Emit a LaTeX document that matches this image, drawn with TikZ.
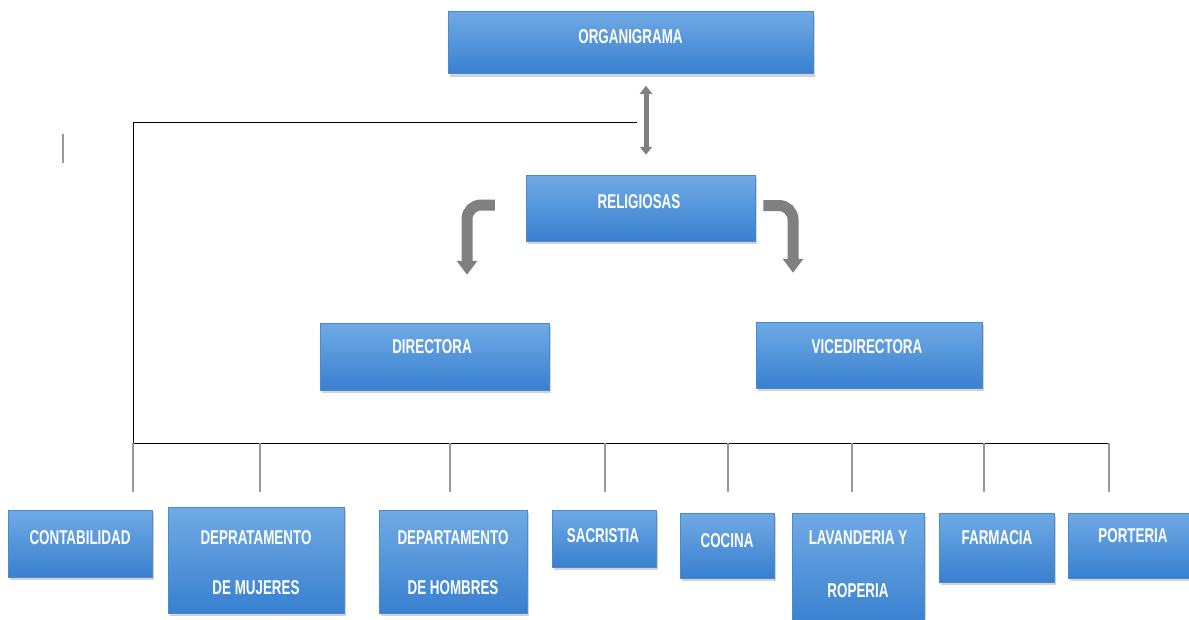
\documentclass[tikz,border=0pt]{standalone}
\usepackage{fontspec}
\newfontfamily\narrowfont[FakeStretch=0.67]{Liberation Sans}
\usetikzlibrary{arrows.meta,shadows}
\definecolor{boxtop}{RGB}{112,170,228}
\definecolor{boxbot}{RGB}{56,128,208}
\definecolor{boxedge}{RGB}{74,138,208}
\definecolor{arrowgray}{RGB}{128,128,128}
\begin{document}
\begin{tikzpicture}[x=1pt,y=-1pt,
 box/.style={rectangle, draw=boxedge, line width=0.5pt, top color=boxtop, bottom color=boxbot,
   drop shadow={shadow xshift=1.5pt, shadow yshift=-3pt, opacity=0.35}, inner sep=0pt},
 lbl/.style={font=\narrowfont\bfseries\fontsize{20}{22}\selectfont, text=white, text height=14.3pt, text depth=0pt, inner sep=0pt},
 link/.style={line width=0.9pt, black},
 stub/.style={line width=1.3pt, black!40},
 dbl/.style={arrowgray, line width=5pt, {Triangle[width=12pt,length=8pt]}-{Triangle[width=12pt,length=8pt]}},
 bent/.style={arrowgray, line width=11pt, rounded corners=14pt, -{Triangle[width=20pt,length=14pt]}}
]
\useasboundingbox (0,0) rectangle (1189,619);

% boxes
\node[box, minimum width=365pt, minimum height=62pt] (org) at (630.5,42.5) {};
\node[box, minimum width=229pt, minimum height=66pt] (rel) at (640.5,208) {};
\node[box, minimum width=229pt, minimum height=67pt] (dir) at (434.5,356.5) {};
\node[box, minimum width=226pt, minimum height=66pt] (vice) at (869,355) {};
\node[box, minimum width=144pt, minimum height=67pt] (c1) at (80,543.5) {};
\node[box, minimum width=176pt, minimum height=106pt] (c2) at (256,560) {};
\node[box, minimum width=148pt, minimum height=103pt] (c3) at (453,561.5) {};
\node[box, minimum width=104pt, minimum height=57pt] (c4) at (604,538.5) {};
\node[box, minimum width=94pt, minimum height=65pt] (c5) at (727,545.5) {};
\node[box, minimum width=132pt, minimum height=114pt] (c6) at (858,570) {};
\node[box, minimum width=115pt, minimum height=69pt] (c7) at (996.5,547.5) {};
\node[box, minimum width=124pt, minimum height=65pt] (c8) at (1130,545.5) {};

% labels
\node[lbl] (torg) at (630.5,36) {ORGANIGRAMA};
\node[lbl] (trel) at (639,201) {RELIGIOSAS};
\node[lbl] (tdir) at (432,346) {DIRECTORA};
\node[lbl] (tvice) at (867,346) {VICEDIRECTORA};
\node[lbl] (tc1) at (80,537) {CONTABILIDAD};
\node[lbl] (tc2a) at (256,537) {DEPRATAMENTO};
\node[lbl] (tc2b) at (256,587) {DE MUJERES};
\node[lbl] (tc3a) at (453,537) {DEPARTAMENTO};
\node[lbl] (tc3b) at (453,587) {DE HOMBRES};
\node[lbl] (tc4) at (603,535) {SACRISTIA};
\node[lbl] (tc5) at (727,540) {COCINA};
\node[lbl] (tc6a) at (858,537) {LAVANDERIA Y};
\node[lbl] (tc6b) at (858,590) {ROPERIA};
\node[lbl] (tc7) at (997,537) {FARMACIA};
\node[lbl] (tc8) at (1133,535) {PORTERIA};

% gray arrows
\draw[dbl, shorten <=12pt, shorten >=20pt] ([xshift=15.5pt]org.south) -- ([xshift=15.5pt]org.south |- rel.north);
\draw[bent, shorten <=31pt, shorten >=48pt] ([yshift=3pt]rel.west) -| ([xshift=32.5pt]dir.north);
\draw[bent, shorten <=8pt, shorten >=49pt] ([yshift=2.5pt]rel.east) -| ([xshift=-76pt]vice.north);

% black connector lines
\coordinate (tl) at (637,122);
\coordinate (bl) at (133,443);
\coordinate (br) at (1109,443);
\draw[link] (tl) -- (tl -| bl) -- (bl) -- (br);

\coordinate (s1) at (133,492);
\coordinate (s2) at (260,492);
\coordinate (s3) at (450,492);
\coordinate (s4) at (605,492);
\coordinate (s5) at (728,492);
\coordinate (s6) at (852,492);
\coordinate (s7) at (984,492);
\coordinate (s8) at (1109,492);
\foreach \s in {s1,s2,s3,s4,s5,s6,s7,s8}{
  \draw[stub] (\s |- bl) -- (\s);
}

% small mark at left
\coordinate (m1) at (63,134);
\coordinate (m2) at (63,163);
\draw[black!40, line width=2.5pt] (m1) -- (m2);
\end{tikzpicture}
\end{document}
